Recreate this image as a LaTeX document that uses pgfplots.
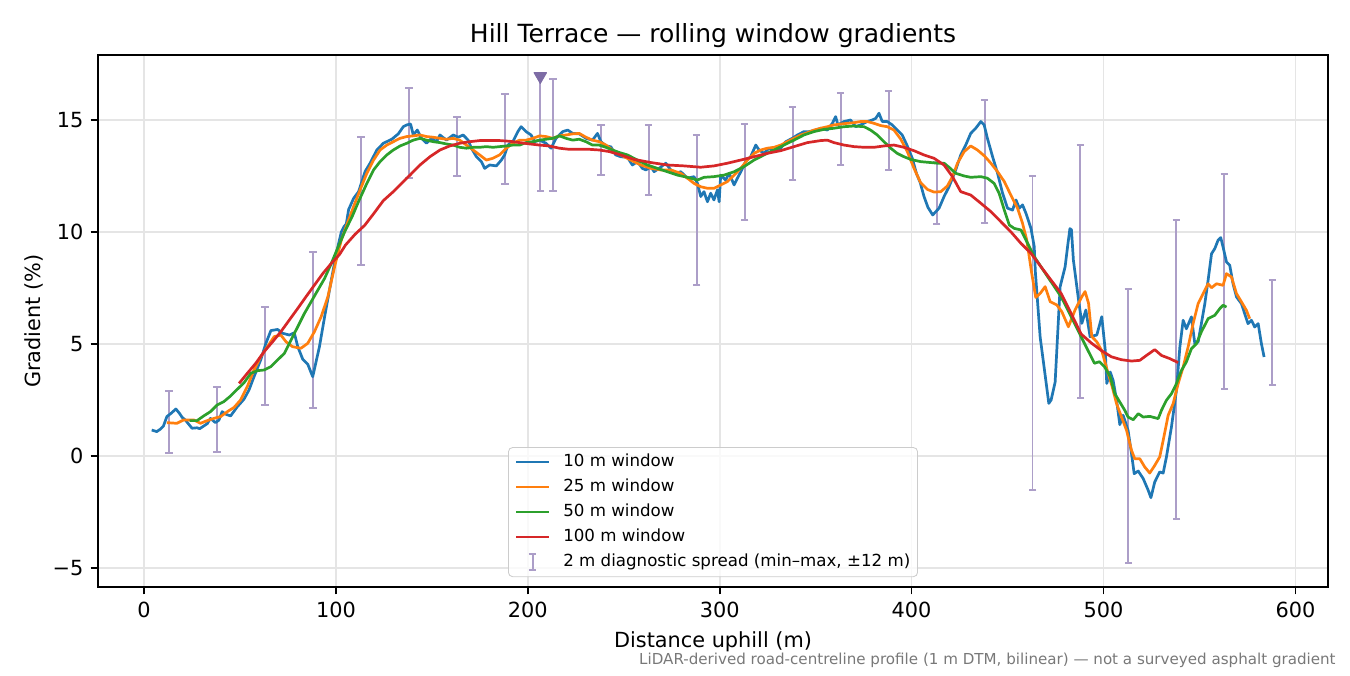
\documentclass[border=0pt]{standalone}
\usepackage{fontspec}
\setmainfont{DejaVu Sans}
\usepackage{pgfplots}
\usepackage{pgfplotstable}
\pgfplotsset{compat=1.18}

\definecolor{c10}{HTML}{1F77B4}
\definecolor{c25}{HTML}{FF7F0E}
\definecolor{c50}{HTML}{2CA02C}
\definecolor{c100}{HTML}{D62728}
\definecolor{barcol}{RGB}{172,158,200}
\definecolor{tricol}{RGB}{125,108,165}

\pgfplotsset{
    lineleg/.style={legend image code/.code={\path[draw=none,fill=none] (0pt,-4pt) rectangle (16pt,4pt); \draw[##1] (0pt,0pt) -- (16pt,0pt);}},
    spreadleg/.style={legend image code/.code={\path[draw=none,fill=none] (0pt,-4pt) rectangle (16pt,4pt);
        \draw[##1] (8pt,-4pt) -- (8pt,4pt);
        \draw[##1] (6.2pt,-4pt) -- (9.8pt,-4pt);
        \draw[##1] (6.2pt,4pt) -- (9.8pt,4pt);}},
}

% 10 m window
\pgfplotstableread{
x y
4 1.16
6.6 1.09
8.5 1.2
10.1 1.34
11.9 1.76
14 1.9
16.6 2.1
18.5 1.9
19.8 1.73
21.5 1.61
23 1.45
25 1.24
27.6 1.26
29 1.22
31.1 1.34
33 1.45
34.6 1.68
37.2 1.49
39 1.6
40.7 1.98
43 1.85
45.1 1.79
48.6 2.2
52.1 2.54
54.7 2.95
57.3 3.54
60.8 4.29
63.5 5.03
66.1 5.6
69.6 5.65
72.2 5.48
75.7 5.4
78.3 5.5
80.1 4.88
82.7 4.32
85.3 4.1
87.9 3.54
91.4 4.88
94.1 6.22
97.6 7.86
100.2 9.05
102.8 10.0
104.2 10.24
105.4 10.36
106.6 11.0
109.2 11.5
111.8 11.8
115.2 12.7
117.8 13.07
121.3 13.66
124.7 13.96
129.1 14.14
132.5 14.38
135.1 14.7
136.9 14.78
138.9 14.82
140.3 14.33
142.4 14.55
144.6 14.18
147.2 13.96
149.8 14.18
152.4 14.03
154.2 14.33
157.6 14.1
161.1 14.33
163.7 14.23
166.3 14.33
168.9 14.1
170.6 13.74
173.2 13.36
175.8 13.14
177.5 12.84
180.1 12.99
183.6 12.95
186.2 13.21
187.9 13.44
189.6 13.88
192.2 14.03
194.8 14.48
196.5 14.7
199.1 14.48
201.7 14.33
203.5 14.03
206.1 14.1
209.5 13.96
212.1 13.74
214.7 14.18
218.2 14.48
220.8 14.55
223.4 14.4
226.8 14.38
230.3 14.18
233.7 14.1
236.3 14.4
238.1 14.03
240.7 13.85
243.3 13.8
245.8 13.44
248.4 13.36
251.9 13.33
254.5 12.99
257.1 13.14
259.7 12.84
261.5 12.77
264.1 12.92
265.8 12.69
268.4 12.84
271.9 13.07
274.5 12.77
277.1 12.62
279.7 12.69
283.2 12.4
286.6 12.47
288.4 12.17
290.1 11.58
291.8 11.8
293.6 11.35
295.3 11.73
297 11.43
298.8 11.88
299.7 11.35
300.5 12.54
303.1 12.32
304.9 12.62
307.5 12.1
309.2 12.4
311 12.69
313.5 13.14
316.1 13.36
318.8 13.88
320.5 13.66
323.1 13.51
325.7 13.74
328.3 13.59
331.8 13.74
334.4 14.03
337.8 14.18
340.5 14.33
343.9 14.48
346.5 14.48
350 14.55
352.6 14.63
356.1 14.55
358.7 14.85
360.4 15.15
361.6 14.78
364.8 14.93
368.2 15.0
370.8 14.7
373.4 14.78
376.9 14.93
379.5 15.0
381.3 15.07
383 15.3
384.7 14.93
387.3 14.93
389.9 14.78
392.5 14.55
395.1 14.33
397.7 13.85
400.3 13.3
402.5 12.62
404.5 12.2
406.4 11.6
408.5 11.1
411 10.76
413.4 10.98
414.3 11.06
416.9 11.58
419.5 12.02
423 12.77
425.6 13.44
428.2 13.88
430.8 14.4
433.4 14.63
436.1 14.93
437.8 14.78
439.5 14.18
442.2 13.36
444.8 12.62
447.4 11.73
450 11.06
452.6 10.98
454.4 11.43
456.1 11.06
457.8 11.21
459.6 10.83
462.2 10.16
463.9 9.35
464.5 8.2
467 5.3
469.6 3.6
471.5 2.35
472.7 2.5
474.8 3.3
477.4 7.56
480 8.45
481.5 9.5
482.5 10.15
483.3 10.1
484.3 8.75
487 6.96
488.7 5.92
490.8 6.52
493 5.33
496.5 5.4
499.1 6.22
500.9 4.73
501.7 3.24
503.5 3.75
505 3.38
506.8 2.5
508.5 1.4
510.2 1.82
512.8 1.15
514.6 0.1
516 -0.79
518.1 -0.67
520.7 -1.01
523.3 -1.53
524.7 -1.86
526.7 -1.16
529.3 -0.71
531.1 -0.76
532.8 -0.04
535.4 1.29
538 2.93
539.8 4.87
541.5 6.06
543.2 5.68
545.8 6.21
547.6 5.01
549.3 5.09
551 5.91
552.8 6.8
554.5 7.84
556.3 9.03
558 9.26
559.7 9.63
561.1 9.75
562.3 9.33
564.1 8.66
565.8 8.51
567.5 7.69
569.3 7.1
571.9 6.8
573.6 6.35
575.3 5.91
577.1 6.06
578.8 5.76
580.6 5.91
582.3 5.01
583.7 4.42
}\winten

% 25 m window
\pgfplotstableread{
x y
11.9 1.49
17.1 1.46
20.6 1.61
25.9 1.61
29.4 1.46
32.9 1.58
36.4 1.68
39.9 1.76
43.4 1.98
46.9 2.17
50.3 2.5
53.8 3.1
57.3 3.84
60.8 4.43
64.3 4.88
67.8 5.33
71.3 5.4
74 5.1
77.4 4.88
81.8 4.81
85.3 5.03
88.8 5.55
92.3 6.22
95.8 7.11
99.3 8.45
102.8 9.64
106 10.4
109.5 11.2
112.6 11.88
116.1 12.62
119.6 13.21
123 13.66
126.5 13.88
129.9 14.03
133.4 14.18
136.9 14.26
140.3 14.29
143.8 14.33
147.2 14.26
150.7 14.23
154.2 14.18
157.6 14.14
161.1 14.18
164.5 14.1
168 13.88
171.5 13.66
174.9 13.44
178.4 13.21
181.8 13.29
185.3 13.44
188.8 13.74
192.2 13.96
195.7 14.1
199.1 14.1
202.6 14.18
206.1 14.29
209.5 14.26
213 14.18
216.5 14.29
219.9 14.33
223.4 14.38
226.8 14.4
230.3 14.23
233.7 14.1
237.2 14.03
240.7 13.88
244.1 13.66
248.4 13.44
253.6 13.21
258.9 12.99
264.1 12.84
269.3 12.77
274.5 12.77
279.7 12.62
283.2 12.4
286.6 12.17
290.1 12.02
293.6 11.95
297 11.95
300.5 12.1
304 12.25
307.5 12.54
310.9 12.84
314.4 13.21
317.9 13.51
321.4 13.66
324.8 13.74
328.3 13.78
331.8 13.88
335.2 14.03
338.7 14.18
342.2 14.33
345.7 14.43
349.1 14.55
352.6 14.63
356.1 14.7
359.5 14.78
363 14.82
366.5 14.85
370 14.88
373.4 14.93
376.9 14.93
380.4 14.85
383.9 14.75
387.3 14.7
390.8 14.55
394.3 14.15
397.7 13.6
401.2 12.85
404.7 12.2
408.2 11.9
411.7 11.78
415.2 11.8
418.6 12.05
421.3 12.47
423.9 13.07
427.4 13.59
430.8 13.84
434.3 13.66
438 13.39
441.3 13.07
444.8 12.69
448.3 12.25
451.7 11.65
455.2 11.06
457.8 10.39
460 9.64
462.6 8.15
464.7 7.08
467 7.26
469.6 7.56
472.2 6.89
475.7 6.74
478.3 6.44
481.7 5.77
485.2 6.52
488.7 7.11
490.4 7.34
492.2 6.82
493.9 5.33
496.5 5.1
499.1 4.7
501.7 3.9
504.5 3.1
506.8 2.34
509.4 1.74
512 1.15
514.6 0.25
516.3 -0.12
518.9 -0.12
521.5 -0.49
524.1 -0.76
526.7 -0.42
529.3 -0.04
531.1 0.7
533.7 1.82
536.3 2.34
538.9 3.23
541.5 3.97
544.1 4.87
546.7 5.91
549.3 6.8
551.9 7.25
554.5 7.69
556.3 7.51
558.9 7.69
562.3 7.62
564.1 8.14
566.7 7.99
569.3 7.25
571.9 6.88
574.5 6.5
576.2 6.13
}\wtwentyfive

% 50 m window
\pgfplotstableread{
x y
23.8 1.58
27.6 1.58
31.1 1.79
34.6 1.98
38.1 2.28
41.6 2.43
45.1 2.68
48.6 2.98
52.1 3.27
55.6 3.69
59.1 3.81
62.6 3.84
66.1 3.99
69.6 4.29
73.1 4.58
76.6 5.18
80.1 5.77
83.6 6.37
87.1 6.89
90.6 7.41
94.1 7.93
97.6 8.6
101 9.3
104.5 10.0
108.5 10.7
112 11.4
116.1 12.17
119.6 12.77
123 13.14
126.5 13.44
129.9 13.66
133.4 13.84
136.9 13.96
140.3 14.1
143.8 14.18
147.2 14.1
150.7 14.03
154.2 13.99
157.6 13.93
161.1 13.88
164.5 13.78
168 13.74
171.5 13.78
174.9 13.78
178.4 13.81
181.8 13.78
185.3 13.81
188.8 13.84
192.2 13.88
195.7 13.88
199.1 13.99
202.6 14.03
206.1 14.1
209.5 14.14
213 14.18
216.5 14.29
219.9 14.18
223.4 14.1
226.8 14.14
230.3 14.03
233.7 13.88
237.2 13.88
240.7 13.78
244.1 13.66
247.6 13.55
251.9 13.44
257.1 13.21
262.3 12.99
267.5 12.84
272.7 12.69
277.9 12.54
283.2 12.44
288.4 12.32
291.8 12.44
297 12.47
302.3 12.54
307.5 12.69
312.7 12.92
317.9 13.21
323.1 13.44
328.3 13.66
333.5 13.88
338.7 14.1
343.9 14.33
349.1 14.48
354.3 14.58
359.5 14.63
364.8 14.7
370 14.73
375.2 14.7
378.6 14.55
382.1 14.33
385.6 14.03
389.1 13.74
392.5 13.51
396 13.36
399.5 13.24
404.7 13.14
409.9 13.1
413.4 13.07
416.9 13.07
419.5 12.89
423 12.62
427.4 12.5
430.8 12.44
436.1 12.47
439.5 12.4
443 12.17
445.6 11.73
448.3 10.98
450.9 10.31
453.5 10.16
457 10.09
460.5 9.49
463.9 8.9
467.4 8.45
470.9 8.0
474.4 7.56
477.9 7.11
481.4 6.52
484.9 5.92
488.3 5.33
491.8 4.73
495.3 4.14
497.9 4.21
500.5 3.99
503.5 3.54
505.9 2.78
508.5 2.41
511.1 2.04
512.8 1.74
515.5 1.62
518.1 1.89
520.7 1.74
524.1 1.77
528.5 1.67
530.2 2.04
532.8 2.49
535.4 2.78
538 3.23
540.6 3.82
543.2 4.2
545.8 4.79
548.4 5.01
551 5.54
554.5 6.13
558 6.28
560.6 6.58
562.3 6.73
564.1 6.65
}\wfifty

% 100 m window
\pgfplotstableread{
x y
49.5 3.24
53.8 3.69
58.2 4.14
62.6 4.66
67 5.1
71.3 5.55
75.7 6.07
80.1 6.59
84.4 7.11
88.8 7.63
93.2 8.15
97.6 8.6
101.9 9.0
105 9.42
110 9.9
115 10.3
119.5 10.8
124.7 11.4
129.9 11.8
133.4 12.1
138.6 12.54
143.8 12.99
149 13.36
154.2 13.66
159.3 13.84
164.5 13.96
169.7 14.03
174.9 14.08
180.1 14.08
185.3 14.08
190.5 14.05
195.7 13.99
200.9 13.93
206.1 13.88
211.2 13.84
216.4 13.74
221.6 13.69
226.8 13.69
232 13.69
237.2 13.66
242.4 13.59
248.4 13.44
255.4 13.24
264.1 13.1
272.7 12.99
281.4 12.95
290.1 12.89
297 12.95
304 13.07
310.9 13.21
317.9 13.36
324.8 13.51
331.8 13.63
338.7 13.81
345.7 13.99
352.6 14.08
356.1 14.1
359.5 13.99
364.8 13.88
370 13.81
375.2 13.78
380.4 13.78
385.6 13.84
390.8 13.88
396 13.78
401.2 13.63
406.4 13.44
411.7 13.29
416.9 12.99
421.3 12.47
425.6 11.8
430.8 11.65
436.1 11.28
441.3 10.91
446.5 10.46
451.7 10.01
457 9.49
462.2 9.05
467.4 8.45
472.6 7.86
477.9 7.26
483.1 6.37
488.3 5.45
493.7 5.04
499 4.7
504.1 4.43
509.3 4.3
514.6 4.24
518.9 4.27
522.4 4.49
526.7 4.75
530.2 4.49
534.5 4.35
538.9 4.17
}\whundred

% 2 m diagnostic spread, min and max
\pgfplotstableread{
x lo hi
13 0.13 2.9
38 0.18 3.1
63 2.28 6.65
88 2.14 9.1
113 8.53 14.25
138 12.4 16.43
163 12.5 15.13
188 12.16 16.17
206.5 11.84 16.9
213 11.84 16.83
238 12.54 14.78
263 11.63 14.79
288 7.63 14.31
313 10.52 14.83
338 12.34 15.59
363 13.0 16.2
388 12.75 16.3
413 10.36 13.14
438 10.42 15.89
463 -1.52 12.5
488 2.59 13.88
513 -4.76 7.47
538 -2.82 10.54
563 3.0 12.59
588 3.18 7.86
}\spread

\begin{document}
\begin{tikzpicture}
\begin{axis}[
    name=ax,
    scale only axis,
    width=590.4pt, height=255.4pt,
    xmin=-24, xmax=617, ymin=-5.85, ymax=17.9,
    axis line style={line width=0.8pt},
    xtick={0,100,200,300,400,500,600},
    xticklabels={0,100,200,300,400,500,600},
    ytick={-5,0,5,10,15},
    yticklabels={−5,0,5,10,15},
    xtick pos=lower, ytick pos=left,
    tick align=outside, major tick length=3.5pt,
    tick style={black, line width=0.8pt},
    ticklabel style={font=\fontsize{10}{12}\selectfont},
    grid=major, grid style={line width=0.8pt, black!10},
    xlabel={Distance uphill (m)},
    xlabel style={font=\fontsize{10}{12}\selectfont, at={(axis description cs:0.5,0)}, anchor=base, yshift=-28.8pt},
    legend style={at={(axis description cs:0.5,0)}, anchor=south, yshift=4.8pt,
        font=\fontsize{8}{9.6}\selectfont, draw=black!20, rounded corners=2pt,
        fill=white, fill opacity=0.8, text opacity=1,
        inner xsep=3pt, inner ysep=2.5pt, row sep=3pt, column sep=5.5pt,
        nodes={inner sep=0.5pt, text height=6.2pt, text depth=1.8pt}},
    legend cell align=left,
    lineleg,
    every axis plot/.append style={line join=round},
]
% spread bars first, below the lines
\addplot[draw=none, mark=none, forget plot,
    error bars/.cd, y dir=both, y explicit,
    error bar style={draw=barcol, line width=0.95pt},
    error mark=-,
    error mark options={rotate=90, draw=barcol, line width=0.95pt, mark size=1.8pt}]
    table[x=x, y expr=(\thisrow{lo}+\thisrow{hi})/2, y error expr=(\thisrow{hi}-\thisrow{lo})/2] {\spread};

\addplot[c10, line width=1.3pt] table[x=x, y=y] {\winten};
\addlegendentry{10 m window}
\addplot[c25, line width=1.3pt] table[x=x, y=y] {\wtwentyfive};
\addlegendentry{25 m window}
\addplot[c50, line width=1.3pt] table[x=x, y=y] {\wfifty};
\addlegendentry{50 m window}
\addplot[c100, line width=1.3pt] table[x=x, y=y] {\whundred};
\addlegendentry{100 m window}

% steepest point marker
\addplot[only marks, mark=triangle*, mark size=3.5pt, forget plot,
    mark options={rotate=180, fill=tricol, draw=tricol}] coordinates {(206.5,16.95)};

\addlegendimage{barcol, line width=0.95pt, spreadleg}
\addlegendentry{2 m diagnostic spread (min–max, ±12 m)}
\end{axis}
\node[anchor=base, inner sep=0pt, font=\fontsize{12}{14.4}\selectfont]
    at ([yshift=5.8pt]ax.north) {Hill Terrace — rolling window gradients};
\node[anchor=base, rotate=90, inner sep=0pt, font=\fontsize{10}{12}\selectfont]
    at ([xshift=-27.4pt]ax.west) {Gradient (\%)};
\node[anchor=base east, inner sep=0pt, text=black!53, font=\fontsize{7.25}{8.7}\selectfont]
    at ([xshift=3.84pt, yshift=-37pt]ax.south east)
    {LiDAR-derived road-centreline profile (1 m DTM, bilinear) — not a surveyed asphalt gradient};
\pgfresetboundingbox
\path[use as bounding box] ([shift={(-47.04pt,-42.24pt)}]ax.south west) rectangle ([shift={(10.56pt,26.4pt)}]ax.north east);
\end{tikzpicture}
\end{document}
